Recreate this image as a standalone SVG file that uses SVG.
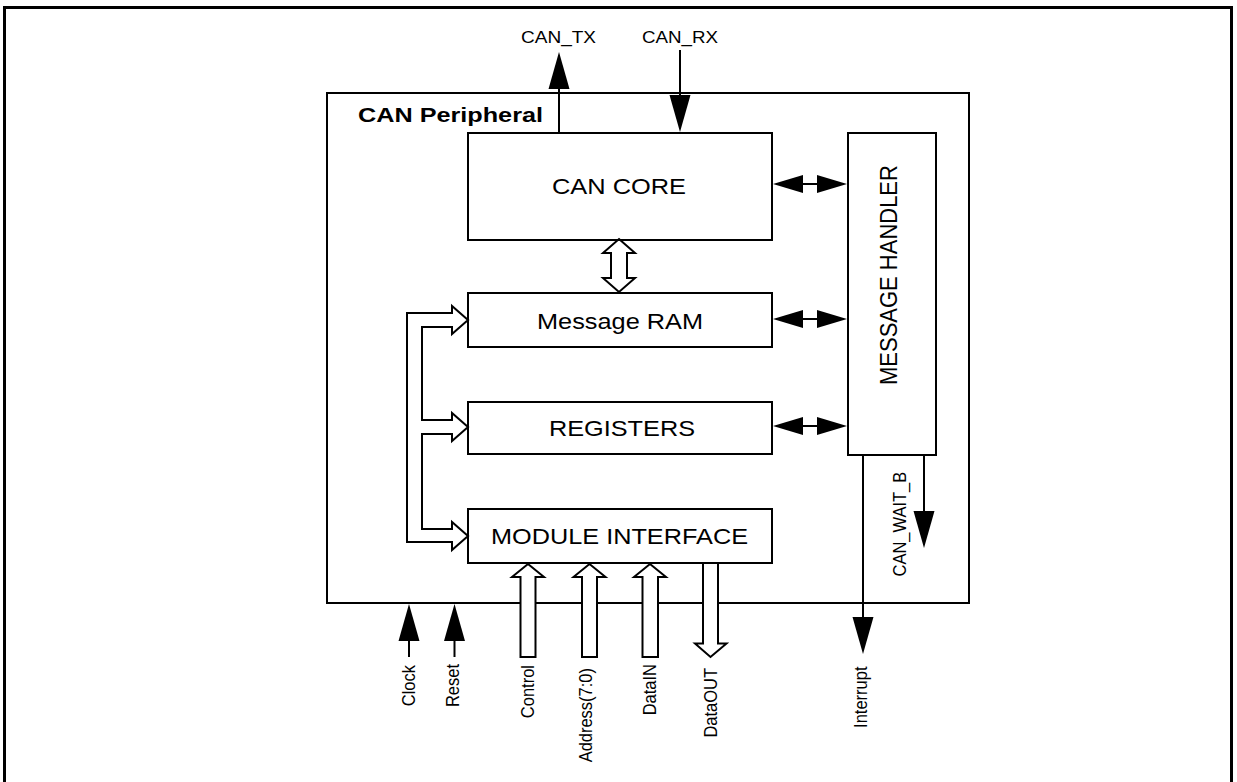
<svg xmlns="http://www.w3.org/2000/svg" width="1237" height="782" viewBox="0 0 1237 782">
<style>
.box{fill:#fff;stroke:#000;stroke-width:2}
.frame{fill:#fff;stroke:#000;stroke-width:3}
.t{font-family:"Liberation Sans",Arial,Helvetica,sans-serif;fill:#000}
.big{font-size:22px}
.sm{font-size:16.5px}
.bold{font-weight:bold;font-size:21px}
.ln{fill:none;stroke:#000;stroke-width:2}
.hollow{fill:#fff;stroke:#000;stroke-width:2;stroke-linejoin:miter}
</style>
<defs>
<marker id="ah" markerUnits="userSpaceOnUse" markerWidth="40" markerHeight="24" viewBox="0 0 40 24" refX="27" refY="12" orient="auto-start-reverse">
<path d="M0,1.5 L37,12 L0,22.5 Z" fill="#000"/>
</marker>
<marker id="ahs" markerUnits="userSpaceOnUse" markerWidth="32" markerHeight="20" viewBox="0 0 32 20" refX="20" refY="10" orient="auto-start-reverse">
<path d="M0,1 L30,10 L0,19 Z" fill="#000"/>
</marker>
</defs>

<g id="frame"><rect class="frame" x="4.5" y="7.5" width="1227" height="790"/></g>

<g id="can-peripheral">
<rect class="box" x="327" y="93" width="642" height="510"/>
<text class="t bold" x="358" y="121.7" textLength="185" lengthAdjust="spacingAndGlyphs">CAN Peripheral</text>
</g>

<g id="can-core">
<rect class="box" x="468" y="133" width="304" height="107"/>
<text class="t big" x="552" y="194.3" textLength="134" lengthAdjust="spacingAndGlyphs">CAN CORE</text>
</g>

<g id="message-ram">
<rect class="box" x="468" y="293" width="304" height="54"/>
<text class="t big" x="537" y="329" textLength="166" lengthAdjust="spacingAndGlyphs">Message RAM</text>
</g>

<g id="registers">
<rect class="box" x="468" y="402" width="304" height="52"/>
<text class="t big" x="549" y="435.7" textLength="146" lengthAdjust="spacingAndGlyphs">REGISTERS</text>
</g>

<g id="module-interface">
<rect class="box" x="468" y="509" width="304" height="54"/>
<text class="t big" x="491" y="544" textLength="257" lengthAdjust="spacingAndGlyphs">MODULE INTERFACE</text>
</g>

<g id="message-handler">
<rect class="box" x="848" y="133" width="88" height="322"/>
<text class="t big" font-size="22.3" transform="translate(897,385) scale(1.1,1) rotate(-90)">MESSAGE HANDLER</text>
</g>

<g id="connectors">
<!-- CAN_TX / CAN_RX -->
<line class="ln" x1="559" y1="133" x2="559" y2="62" marker-end="url(#ah)"/>
<line class="ln" x1="680" y1="50" x2="680" y2="122" marker-end="url(#ah)"/>
<!-- Message handler links -->
<line class="ln" x1="783" y1="184" x2="837" y2="184" marker-start="url(#ahs)" marker-end="url(#ahs)"/>
<line class="ln" x1="783" y1="319" x2="837" y2="319" marker-start="url(#ahs)" marker-end="url(#ahs)"/>
<line class="ln" x1="783" y1="426" x2="837" y2="426" marker-start="url(#ahs)" marker-end="url(#ahs)"/>
<!-- CAN CORE <-> Message RAM -->
<polygon class="hollow" points="619,239 635,253 627,253 627,278 635,278 619,292 603,278 611,278 611,253 603,253"/>
<!-- Internal bus -->
<polygon class="hollow" points="407,313 452,313 452,306 468,320 452,334 452,327 422,327 422,420 452,420 452,413 468,427 452,441 452,434 422,434 422,529 452,529 452,522 468,536 452,550 452,542 407,542"/>
<!-- Bottom bus arrows -->
<polygon class="hollow" points="528,564 544,577 535.5,577 535.5,657 520.5,657 520.5,577 512,577"/>
<polygon class="hollow" points="589.5,564 605.5,577 597,577 597,657 582,657 582,577 573.5,577"/>
<polygon class="hollow" points="650,564 666,577 658,577 658,657 642.5,657 642.5,577 634,577"/>
<polygon class="hollow" points="703,563 718,563 718,643.5 726.5,643.5 710.5,657 695,643.5 703,643.5"/>
<!-- Clock / Reset -->
<line class="ln" x1="409" y1="657" x2="409" y2="614" marker-end="url(#ah)"/>
<line class="ln" x1="454.5" y1="657" x2="454.5" y2="614" marker-end="url(#ah)"/>
<!-- Interrupt / CAN_WAIT_B -->
<line class="ln" x1="863" y1="455" x2="863" y2="644" marker-end="url(#ah)"/>
<line class="ln" x1="924" y1="455" x2="924" y2="538" marker-end="url(#ah)"/>

<!-- signal labels -->
<text class="t sm" x="521" y="43" textLength="75" lengthAdjust="spacingAndGlyphs">CAN_TX</text>
<text class="t sm" x="642" y="43" textLength="76" lengthAdjust="spacingAndGlyphs">CAN_RX</text>
<text class="t sm" text-anchor="end" transform="translate(415,665) scale(1.12,1) rotate(-90)">Clock</text>
<text class="t sm" text-anchor="end" transform="translate(459,664) scale(1.12,1) rotate(-90)">Reset</text>
<text class="t sm" text-anchor="end" transform="translate(534,665) scale(1.12,1) rotate(-90)">Control</text>
<text class="t sm" text-anchor="end" transform="translate(592,668) scale(1.12,1) rotate(-90)">Address(7:0)</text>
<text class="t sm" text-anchor="end" transform="translate(656,664) scale(1.12,1) rotate(-90)">DataIN</text>
<text class="t sm" text-anchor="end" transform="translate(716.5,668) scale(1.12,1) rotate(-90)">DataOUT</text>
<text class="t sm" text-anchor="end" transform="translate(867,666.5) scale(1.12,1) rotate(-90)">Interrupt</text>
<text class="t sm" transform="translate(906,576.5) scale(1.12,1) rotate(-90)">CAN_WAIT_B</text>
</g>
</svg>
